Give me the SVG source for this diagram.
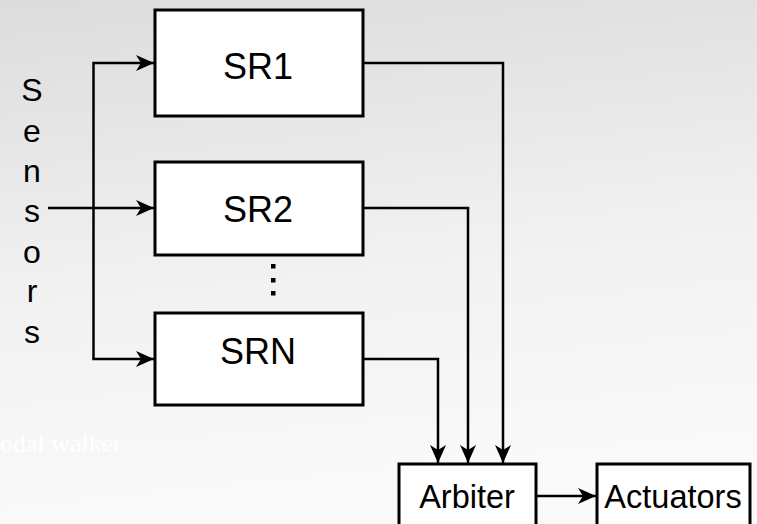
<svg xmlns="http://www.w3.org/2000/svg" width="757" height="524" viewBox="0 0 757 524">
<defs>
<linearGradient id="bg" x1="0" y1="0" x2="0.15" y2="1">
<stop offset="0" stop-color="#dcdcdc"/>
<stop offset="0.55" stop-color="#f1f1f1"/>
<stop offset="1" stop-color="#fafafa"/>
</linearGradient>
<marker id="arr" markerUnits="userSpaceOnUse" markerWidth="22" markerHeight="18" refX="18" refY="8" orient="auto" overflow="visible">
<path d="M0,0 L18,8 L0,16 L5,8 Z" fill="#000"/>
</marker>
<style>
.box{fill:#fff;stroke:#000;stroke-width:3}
.lbl{font-family:"Liberation Sans",Arial,sans-serif;fill:#000;text-anchor:middle}
.big{font-size:36px}
.mid{font-size:32.5px}
.sens{font-family:"Liberation Sans",Arial,sans-serif;font-size:32px;fill:#000;text-anchor:middle}
.con{fill:none;stroke:#000;stroke-width:2.5}
</style>
</defs>
<rect x="0" y="0" width="757" height="524" fill="url(#bg)"/>
<text x="0" y="452" font-family="Liberation Serif,serif" font-size="26" fill="#fff">odal walker</text>
<g id="sensors">
<text class="sens" x="32" y="101">S</text>
<text class="sens" x="32" y="142">e</text>
<text class="sens" x="32" y="182">n</text>
<text class="sens" x="32" y="222">s</text>
<text class="sens" x="32" y="263">o</text>
<text class="sens" x="32" y="302">r</text>
<text class="sens" x="32" y="343">s</text>
</g>
<g id="connectors">
<path class="con" d="M48,208 H154" marker-end="url(#arr)"/>
<path class="con" d="M93.5,208 V63 H154" marker-end="url(#arr)"/>
<path class="con" d="M93.5,208 V359 H154" marker-end="url(#arr)"/>
<path class="con" d="M363,63 H503 V463" marker-end="url(#arr)"/>
<path class="con" d="M363,208 H468 V463" marker-end="url(#arr)"/>
<path class="con" d="M363,359 H438 V463" marker-end="url(#arr)"/>
<path class="con" d="M536,496 H596" marker-end="url(#arr)"/>
</g>
<g id="sr1">
<rect class="box" x="155" y="10" width="208" height="106"/>
<text class="lbl big" x="258" y="79">SR1</text>
</g>
<g id="sr2">
<rect class="box" x="155" y="162" width="208" height="93"/>
<text class="lbl big" x="258" y="222">SR2</text>
</g>
<g id="dots">
<rect x="271" y="264" width="4.5" height="4.5" fill="#000"/>
<rect x="271" y="278" width="4.5" height="4.5" fill="#000"/>
<rect x="271" y="291" width="4.5" height="4.5" fill="#000"/>
</g>
<g id="srn">
<rect class="box" x="155" y="313" width="208" height="92"/>
<text class="lbl big" x="258" y="364">SRN</text>
</g>
<g id="arbiter">
<rect class="box" x="399" y="464" width="137" height="70"/>
<text class="lbl mid" x="467" y="508">Arbiter</text>
</g>
<g id="actuators">
<rect class="box" x="597" y="464" width="153" height="70"/>
<text class="lbl mid" x="673" y="508">Actuators</text>
</g>
</svg>
